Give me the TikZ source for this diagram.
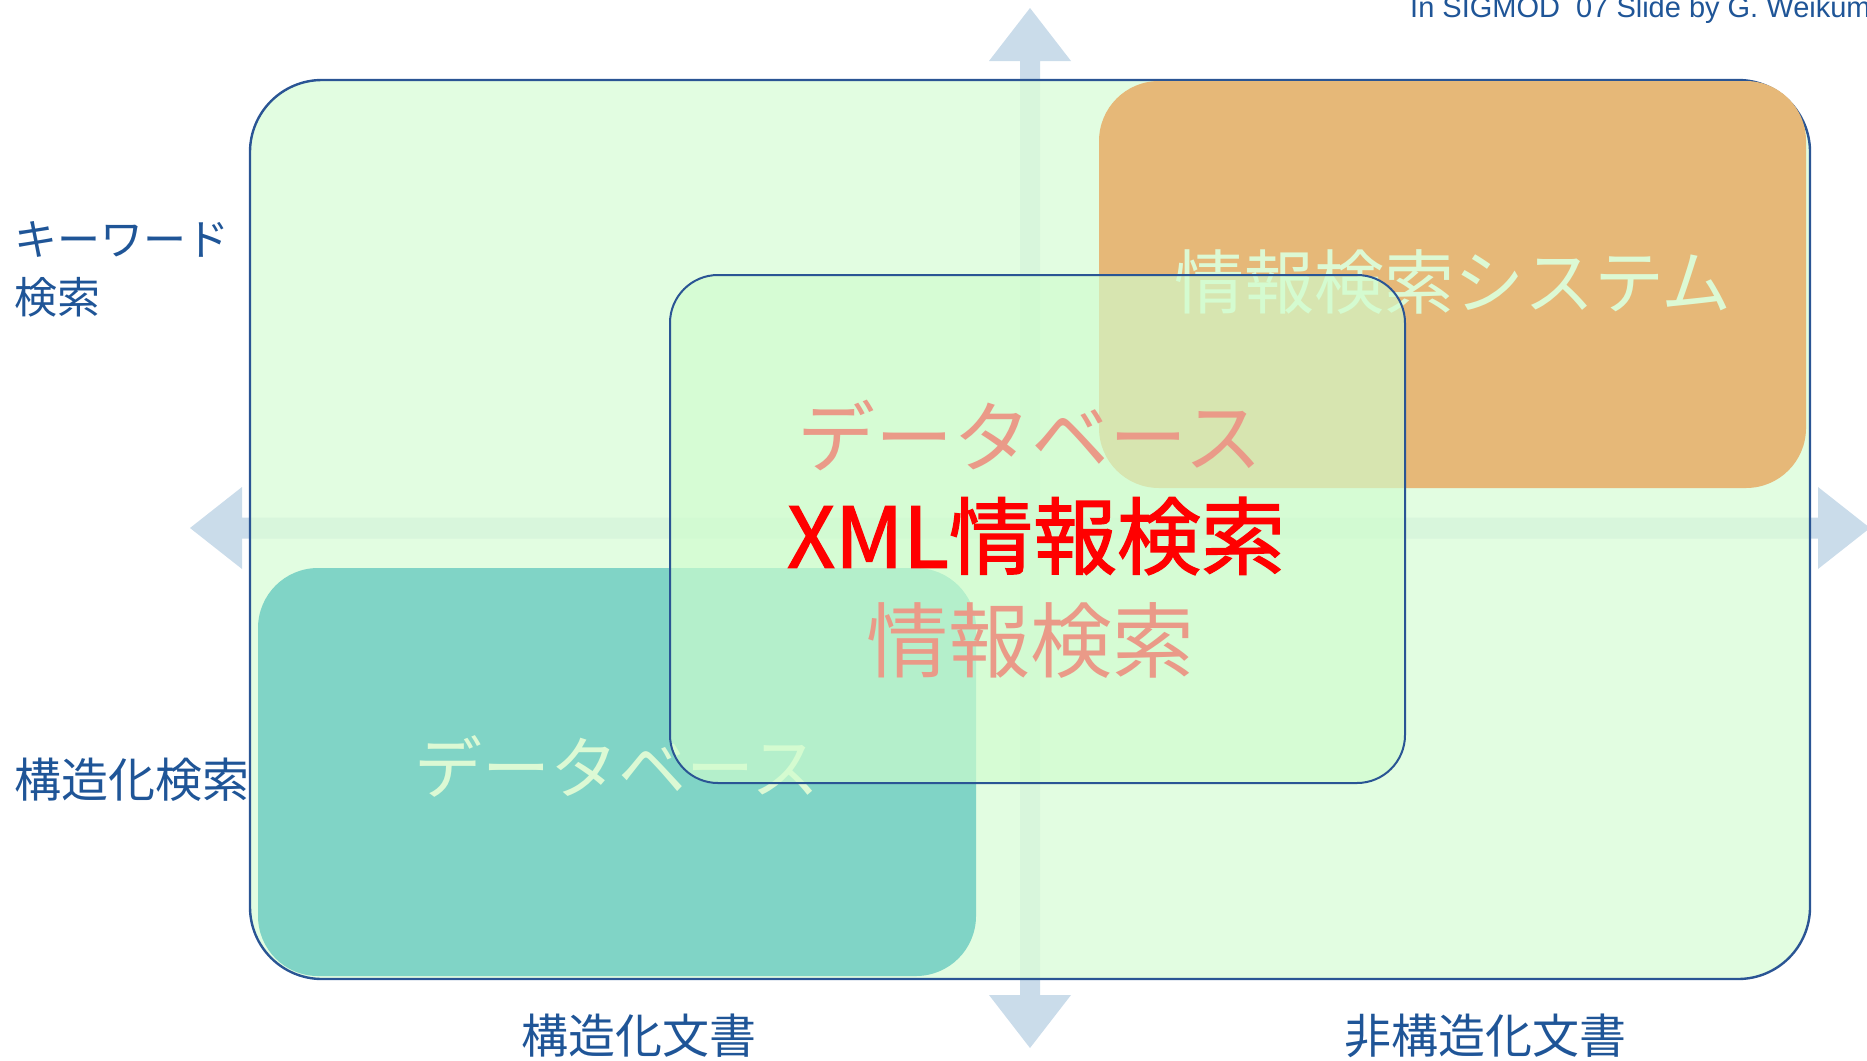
\documentclass[tikz,border=0pt]{standalone}
\usepackage{fontspec}
\setmainfont{Liberation Sans}
\newfontfamily\jp{Noto Sans CJK JP}
\newfontfamily\jpm[FakeBold=1.6]{Noto Sans CJK JP}
\definecolor{labelblue}{HTML}{1F5597}
\definecolor{edgeblue}{HTML}{2A5594}
\definecolor{arrowblue}{HTML}{CADCEA}
\definecolor{outergreen}{HTML}{DCFCDA}
\definecolor{orangefill}{HTML}{E6B878}
\definecolor{tealfill}{HTML}{80D4C6}
\definecolor{centergreen}{HTML}{D0FDCE}
\definecolor{salmon}{HTML}{EA9A88}
\definecolor{palegreen}{HTML}{DCF9D4}
\tikzset{
  axisarrow/.style={fill=arrowblue, draw=none},
  bigbox/.style={draw=edgeblue, line width=2.4pt},
  sidelabel/.style={font=\jp\fontsize{45}{58}\selectfont, text=labelblue, inner sep=0pt},
  boxtext/.style={font=\jp\fontsize{#1}{#1}\selectfont, inner sep=0pt},
}
\begin{document}
\begin{tikzpicture}[x=1pt,y=-1pt]
\useasboundingbox (0,0) rectangle (1867,1060);
% axes (double block arrows)
\path[axisarrow] (1030,8) -- (1071,61) -- (1040,61) -- (1040,995) -- (1071,995) -- (1030,1048)
  -- (989,995) -- (1020,995) -- (1020,61) -- (989,61) -- cycle;
\path[axisarrow] (190,528) -- (242,487) -- (242,517.5) -- (1818,517.5) -- (1818,487) -- (1870,528)
  -- (1818,569) -- (1818,538.5) -- (242,538.5) -- (242,569) -- cycle;
% outer box
\draw[bigbox, fill=outergreen, fill opacity=0.82, rounded corners=72pt] (250,80) rectangle (1810,979);
% orange and teal boxes
\fill[orangefill, rounded corners=60pt] (1099,81) rectangle (1806,488);
\fill[tealfill, rounded corners=60pt] (258,568) rectangle (976,976);
\node[boxtext=70, text=palegreen] (irs) at (1453,282) {情報検索システム};
\node[boxtext=68, text=palegreen] (dbl) at (617,766) {データベース};
% center box
\draw[bigbox, line width=2pt, fill=centergreen, fill opacity=0.66, rounded corners=48pt] (670,275) rectangle (1405,783);
\node[boxtext=78, text=salmon] (dbc) at (1030,435) {データベース};
\node[boxtext=82, text=salmon] (irc) at (1030,640) {情報検索};
\node[inner sep=0pt, text=red, font=\jpm\fontsize{84}{84}\selectfont] (xml) at (1036,536) {XML情報検索};
% side labels
\node[sidelabel, font=\jp\fontsize{43}{58}\selectfont, align=left, anchor=west] (kw) at (14,269) {キーワード\\検索};
\node[sidelabel, font=\jp\fontsize{47}{58}\selectfont, anchor=west] (st) at (14,780) {構造化検索};
\node[sidelabel, font=\jp\fontsize{47}{58}\selectfont] (sd) at (639,1036) {構造化文書};
\node[sidelabel, font=\jp\fontsize{47}{58}\selectfont] (ud) at (1485,1036) {非構造化文書};
% credit
\node[anchor=base west, inner sep=0pt, text=labelblue, font=\fontsize{29}{32}\selectfont] (credit) at (1410,17) {In SIGMOD \ 07 Slide by G. Weikum};
\end{tikzpicture}
\end{document}
